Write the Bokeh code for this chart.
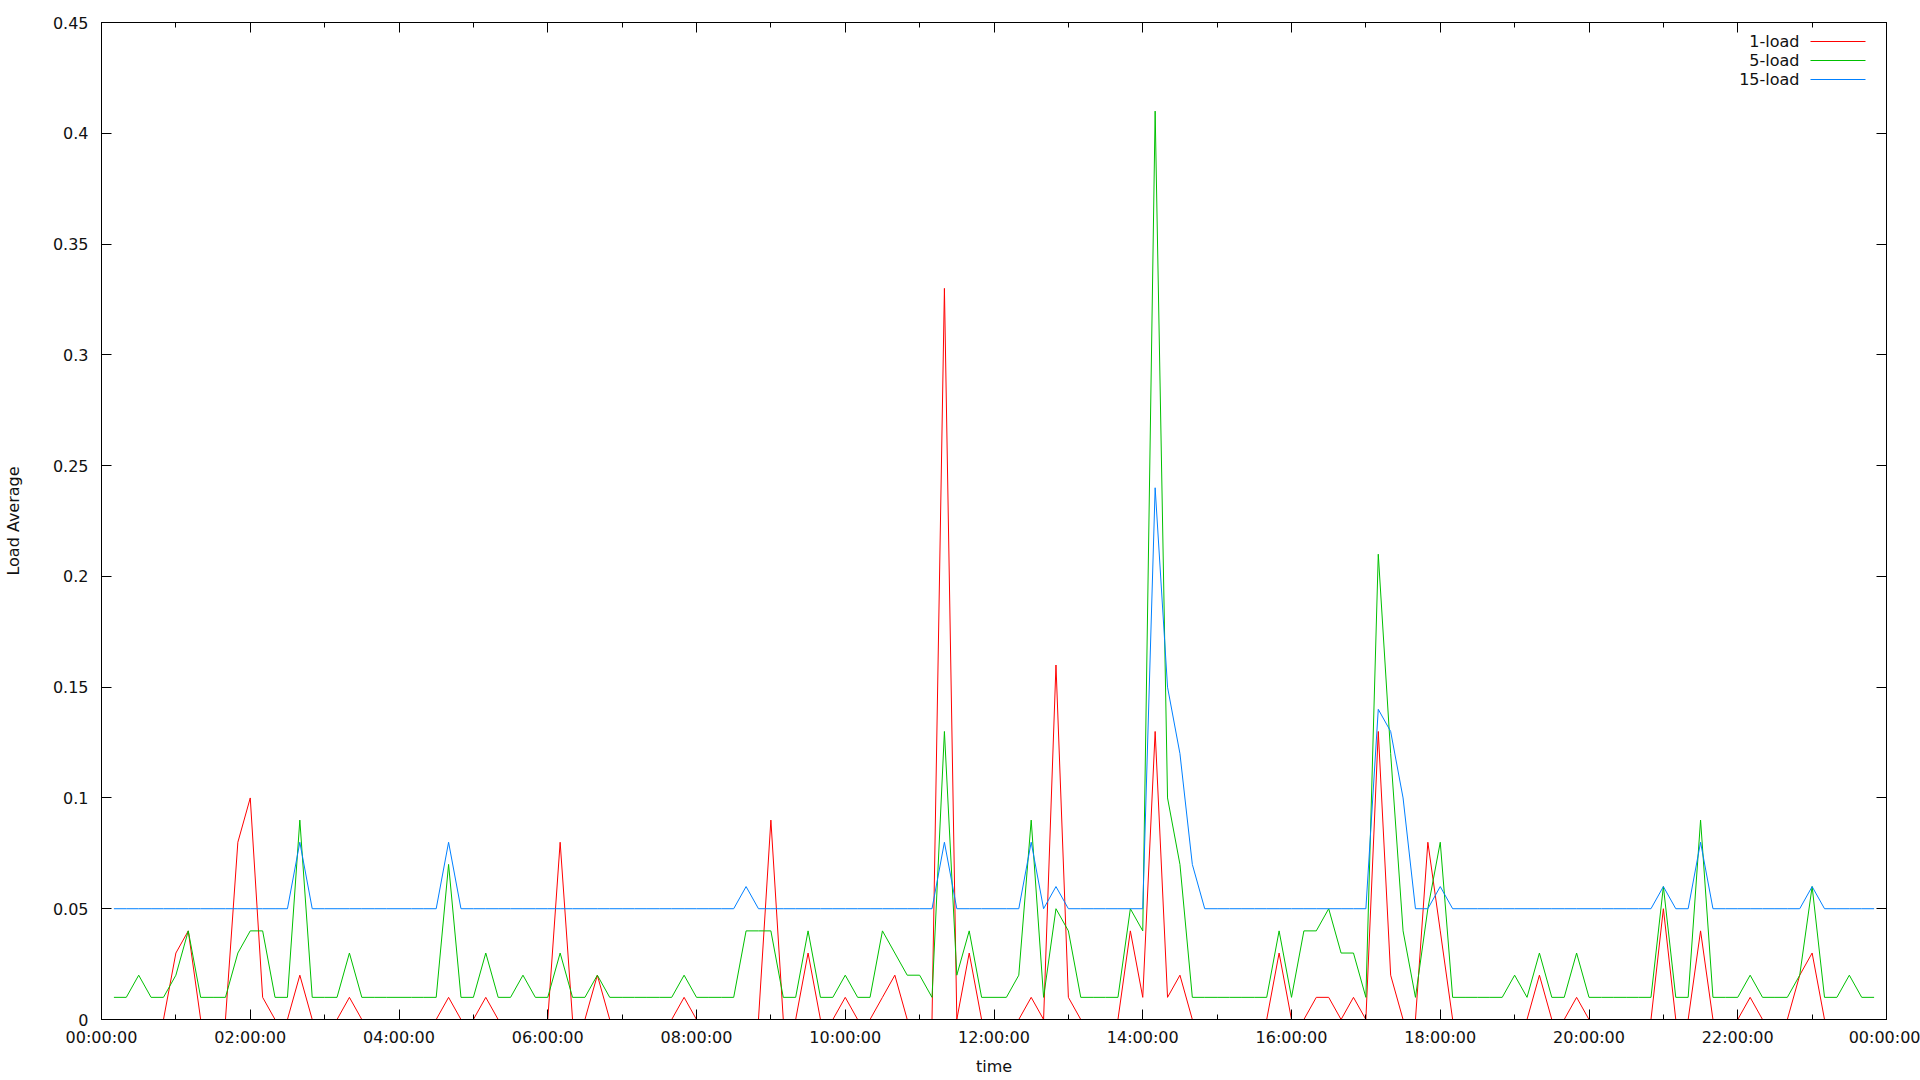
from bokeh.plotting import figure
from bokeh.models import (Range1d, FixedTicker, LinearAxis, Label, Arrow,
                          ColumnDataSource, CustomJSTickFormatter)
from bokeh.embed import file_html
from bokeh.resources import INLINE

# sample times: minutes after midnight, one sample every 10 minutes (00:10 ... 23:50)
minutes = list(range(10, 1440, 10))

# 1-minute load average (rows of 3 hours each)
load1 = [
    0, 0, 0, 0, 0, 0.03, 0.04, 0, 0, 0, 0.08, 0.10, 0.01, 0, 0, 0.02, 0, 0,
    0, 0.01, 0, 0, 0, 0, 0, 0, 0, 0.01, 0, 0, 0.01, 0, 0, 0, 0, 0,
    0.08, 0, 0, 0.02, 0, 0, 0, 0, 0, 0, 0.01, 0, 0, 0, 0, 0, 0, 0.09,
    0, 0, 0.03, 0, 0, 0.01, 0, 0, 0.01, 0.02, 0, 0, 0, 0.33, 0, 0.03, 0, 0,
    0, 0, 0.01, 0, 0.16, 0.01, 0, 0, 0, 0, 0.04, 0.01, 0.13, 0.01, 0.02, 0, 0, 0,
    0, 0, 0, 0, 0.03, 0, 0, 0.01, 0.01, 0, 0.01, 0, 0.13, 0.02, 0, 0, 0.08, 0.04,
    0, 0, 0, 0, 0, 0, 0, 0.02, 0, 0, 0.01, 0, 0, 0, 0, 0, 0, 0.05,
    0, 0, 0.04, 0, 0, 0, 0.01, 0, 0, 0, 0.02, 0.03, 0, 0, 0, 0, 0,
]

# 5-minute load average
load5 = [
    0.01, 0.01, 0.02, 0.01, 0.01, 0.02, 0.04, 0.01, 0.01, 0.01, 0.03, 0.04, 0.04, 0.01, 0.01, 0.09, 0.01, 0.01,
    0.01, 0.03, 0.01, 0.01, 0.01, 0.01, 0.01, 0.01, 0.01, 0.07, 0.01, 0.01, 0.03, 0.01, 0.01, 0.02, 0.01, 0.01,
    0.03, 0.01, 0.01, 0.02, 0.01, 0.01, 0.01, 0.01, 0.01, 0.01, 0.02, 0.01, 0.01, 0.01, 0.01, 0.04, 0.04, 0.04,
    0.01, 0.01, 0.04, 0.01, 0.01, 0.02, 0.01, 0.01, 0.04, 0.03, 0.02, 0.02, 0.01, 0.13, 0.02, 0.04, 0.01, 0.01,
    0.01, 0.02, 0.09, 0.01, 0.05, 0.04, 0.01, 0.01, 0.01, 0.01, 0.05, 0.04, 0.41, 0.10, 0.07, 0.01, 0.01, 0.01,
    0.01, 0.01, 0.01, 0.01, 0.04, 0.01, 0.04, 0.04, 0.05, 0.03, 0.03, 0.01, 0.21, 0.12, 0.04, 0.01, 0.05, 0.08,
    0.01, 0.01, 0.01, 0.01, 0.01, 0.02, 0.01, 0.03, 0.01, 0.01, 0.03, 0.01, 0.01, 0.01, 0.01, 0.01, 0.01, 0.06,
    0.01, 0.01, 0.09, 0.01, 0.01, 0.01, 0.02, 0.01, 0.01, 0.01, 0.02, 0.06, 0.01, 0.01, 0.02, 0.01, 0.01,
]

# 15-minute load average
load15 = [
    0.05, 0.05, 0.05, 0.05, 0.05, 0.05, 0.05, 0.05, 0.05, 0.05, 0.05, 0.05, 0.05, 0.05, 0.05, 0.08, 0.05, 0.05,
    0.05, 0.05, 0.05, 0.05, 0.05, 0.05, 0.05, 0.05, 0.05, 0.08, 0.05, 0.05, 0.05, 0.05, 0.05, 0.05, 0.05, 0.05,
    0.05, 0.05, 0.05, 0.05, 0.05, 0.05, 0.05, 0.05, 0.05, 0.05, 0.05, 0.05, 0.05, 0.05, 0.05, 0.06, 0.05, 0.05,
    0.05, 0.05, 0.05, 0.05, 0.05, 0.05, 0.05, 0.05, 0.05, 0.05, 0.05, 0.05, 0.05, 0.08, 0.05, 0.05, 0.05, 0.05,
    0.05, 0.05, 0.08, 0.05, 0.06, 0.05, 0.05, 0.05, 0.05, 0.05, 0.05, 0.05, 0.24, 0.15, 0.12, 0.07, 0.05, 0.05,
    0.05, 0.05, 0.05, 0.05, 0.05, 0.05, 0.05, 0.05, 0.05, 0.05, 0.05, 0.05, 0.14, 0.13, 0.10, 0.05, 0.05, 0.06,
    0.05, 0.05, 0.05, 0.05, 0.05, 0.05, 0.05, 0.05, 0.05, 0.05, 0.05, 0.05, 0.05, 0.05, 0.05, 0.05, 0.05, 0.06,
    0.05, 0.05, 0.08, 0.05, 0.05, 0.05, 0.05, 0.05, 0.05, 0.05, 0.05, 0.06, 0.05, 0.05, 0.05, 0.05, 0.05,
]

series_names = ["1-load", "5-load", "15-load"]
series_colors = ["#ff0000", "#00c000", "#0080ff"]

x_tick_hours = [0, 2, 4, 6, 8, 10, 12, 14, 16, 18, 20, 22, 24]
x_minor_hours = list(range(0, 25))
x_tick_labels = ["00:00:00", "02:00:00", "04:00:00", "06:00:00", "08:00:00", "10:00:00",
                 "12:00:00", "14:00:00", "16:00:00", "18:00:00", "20:00:00", "22:00:00", "00:00:00"]
y_ticks = [0, 0.05, 0.1, 0.15, 0.2, 0.25, 0.3, 0.35, 0.4, 0.45]
y_tick_labels = ["0", "0.05", "0.1", "0.15", "0.2", "0.25", "0.3", "0.35", "0.4", "0.45"]

FONT = "DejaVu Sans"
FSIZE = "16px"
TXT = "#111111"

hours = [m / 60.0 for m in minutes]
source = ColumnDataSource(data=dict(x=hours, l1=load1, l5=load5, l15=load15))

p = figure(width=1920, height=1080,
           x_range=Range1d(0, 24), y_range=Range1d(0, 0.45),
           output_backend="svg", toolbar_location=None,
           min_border_left=101, min_border_right=34, min_border_top=22, min_border_bottom=61,
           background_fill_color="white", border_fill_color="white",
           outline_line_color="black", outline_line_width=1)
p.grid.visible = False

xt = FixedTicker(ticks=x_tick_hours, minor_ticks=x_minor_hours)
yt = FixedTicker(ticks=y_ticks, minor_ticks=[])

xa = p.xaxis[0]
xa.ticker = xt
xa.major_label_overrides = {h: lab for h, lab in zip(x_tick_hours, x_tick_labels)}
xa.axis_label = "time"

ya = p.yaxis[0]
ya.ticker = yt
ya.major_label_overrides = {t: lab for t, lab in zip(y_ticks, y_tick_labels)}
ya.axis_label = "Load Average"

for ax in (xa, ya):
    ax.major_tick_in = 10
    ax.major_tick_out = 0
    ax.minor_tick_in = 5
    ax.minor_tick_out = 0
    ax.axis_line_color = "black"
    ax.major_tick_line_color = "black"
    ax.minor_tick_line_color = "black"
    ax.major_label_text_font = FONT
    ax.major_label_text_font_size = FSIZE
    ax.major_label_text_color = TXT
    ax.axis_label_text_font = FONT
    ax.axis_label_text_font_size = FSIZE
    ax.axis_label_text_font_style = "normal"
    ax.axis_label_text_color = TXT

xa.major_label_standoff = 8
xa.axis_label_standoff = 7
ya.major_label_standoff = 13
ya.axis_label_standoff = 27

# mirrored ticks on top and right (gnuplot style)
top = LinearAxis(ticker=xt, formatter=CustomJSTickFormatter(code="return ''"),
                 major_tick_in=10, major_tick_out=0, minor_tick_in=5, minor_tick_out=0,
                 major_label_standoff=0, major_label_text_font_size="1px",
                 axis_line_color="black")
right = LinearAxis(ticker=yt, formatter=CustomJSTickFormatter(code="return ''"),
                   major_tick_in=10, major_tick_out=0, minor_tick_line_color=None,
                   major_label_standoff=0, major_label_text_font_size="1px",
                   axis_line_color="black")
p.add_layout(top, "above")
p.add_layout(right, "right")

for col, color in zip(["l1", "l5", "l15"], series_colors):
    p.line("x", col, source=source, line_color=color, line_width=1)

# gnuplot-style key: text right-aligned, then line sample
row_y = [978, 959, 940]
for name, color, yy in zip(series_names, series_colors, row_y):
    p.add_layout(Label(x=1698, y=yy, x_units="screen", y_units="screen", text=name,
                       text_align="right", text_baseline="middle",
                       text_font=FONT, text_font_size=FSIZE, text_color=TXT))
    p.add_layout(Arrow(x_start=1709, y_start=yy, x_end=1764, y_end=yy,
                       start_units="screen", end_units="screen",
                       start=None, end=None, line_color=color, line_width=1))

open("out.html", "w").write(file_html(p, INLINE))
